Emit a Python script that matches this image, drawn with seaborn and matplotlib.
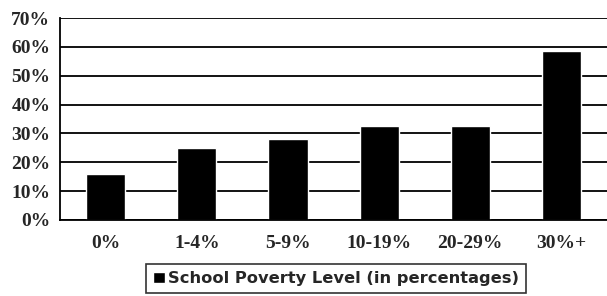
import matplotlib
matplotlib.use("Agg")
import matplotlib.pyplot as plt
import seaborn as sns
import pandas as pd

categories = ["0%", "1-4%", "5-9%", "10-19%", "20-29%", "30%+"]
values = [16, 25, 28, 32.5, 32.5, 58.5]
series_name = "School Poverty Level (in percentages)"
y_ticks = [0, 10, 20, 30, 40, 50, 60, 70]

df = pd.DataFrame({"level": categories, "pct": values, "series": series_name})

sns.set_style("white")
fig = plt.figure(figsize=(6.07, 2.96), dpi=100)
ax = fig.add_axes([0.099, 0.257, 0.901, 0.682])

sns.barplot(data=df, x="level", y="pct", hue="series", palette=["black"],
            width=0.43, ax=ax, legend=True, saturation=1)

ax.set_ylim(0, 70)
ax.set_yticks(y_ticks)
ax.set_yticklabels([f"{t}%" for t in y_ticks], fontfamily="Liberation Serif",
                   fontweight="bold", fontsize=14)
ax.set_xlim(-0.5, len(categories) - 0.5)
ax.set_xticks([i - 0.5 for i in range(1, len(categories))], minor=True)
ax.set_xticklabels(categories, fontfamily="Liberation Serif", fontweight="bold",
                   fontsize=14)
ax.tick_params(axis="x", which="major", length=0, pad=11)
ax.tick_params(axis="x", which="minor", length=5, width=1.2, color="black", direction="out")
ax.tick_params(axis="y", length=5, width=1.2, color="black", direction="out", pad=2)
ax.set_xlabel("")
ax.set_ylabel("")
ax.yaxis.grid(True, color="black", linewidth=1.3)
ax.set_axisbelow(True)
for s in ["top", "right"]:
    ax.spines[s].set_visible(False)
for s in ["left", "bottom"]:
    ax.spines[s].set_color("black")
    ax.spines[s].set_linewidth(1.3)

leg = ax.legend(loc="center", bbox_to_anchor=(0.505, -0.29), frameon=True,
                fancybox=False, edgecolor="black", handlelength=0.7, handleheight=0.7,
                handletextpad=0.2, borderpad=0.45,
                prop={"family": "DejaVu Sans", "weight": "bold", "size": 11.7})
leg.get_frame().set_linewidth(1.2)

fig.savefig("out.png", dpi=100)
